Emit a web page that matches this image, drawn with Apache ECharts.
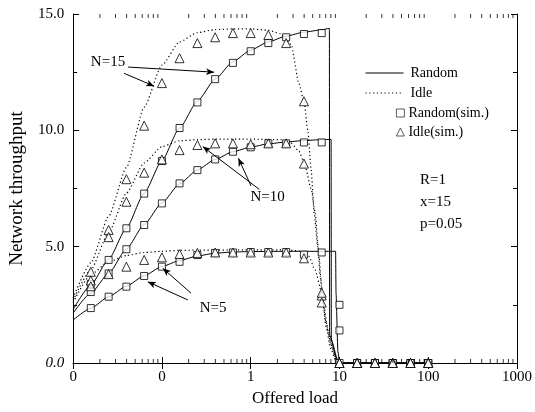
<!DOCTYPE html>
<html>
<head>
<meta charset="utf-8">
<script src="https://cdn.jsdelivr.net/npm/echarts@6/dist/echarts.min.js"></script>
<style>
html, body { margin: 0; padding: 0; background: #fff; }
#main { width: 535px; height: 412px; }
</style>
</head>
<body>
<div id="main"></div>
<script>
// offered load of the simulation points
const simLoad = [0.0158, 0.0251, 0.0398, 0.0631, 0.1, 0.158, 0.251, 0.398, 0.631, 1,
                 1.58, 2.51, 3.98, 6.31, 10, 15.8, 25.1, 39.8, 63.1, 100];

// Random(sim.)
const randomSim15 = [3.4, 4.43, 5.79, 7.28, 8.68, 10.1, 11.2, 12.2, 12.9, 13.4, 13.75, 14.0, 14.14, 14.18, 0, 0, 0, 0, 0, 0];
const randomSim10 = [3.05, 3.85, 4.89, 5.93, 6.86, 7.72, 8.29, 8.75, 9.08, 9.27, 9.44, 9.44, 9.48, 9.48, 2.5, 0, 0, 0, 0, 0];
const randomSim5  = [2.36, 2.85, 3.28, 3.74, 4.14, 4.35, 4.64, 4.73, 4.75, 4.77, 4.77, 4.77, 4.66, 4.75, 1.4, 0, 0, 0, 0, 0];

// Idle(sim.)
const idleSim15 = [3.92, 5.72, 7.9, 10.2, 12.03, 13.1, 13.75, 14.0, 14.18, 14.18, 14.1, 13.75, 11.25, 2.9, 0, 0, 0, 0, 0, 0];
const idleSim10 = [3.55, 5.41, 6.93, 8.18, 8.75, 9.15, 9.37, 9.44, 9.44, 9.4, 9.44, 9.44, 8.57, 2.6, 0, 0, 0, 0, 0, 0];
const idleSim5  = [3.3, 3.82, 4.14, 4.43, 4.54, 4.68, 4.73, 4.75, 4.75, 4.75, 4.75, 4.75, 4.5, 3.02, 0, 0, 0, 0, 0, 0];

// analytic curves [load, throughput]
const randomCurve15 = [[0.01, 2.3], [0.0158, 3.35], [0.0251, 4.45], [0.0398, 5.8], [0.0631, 7.3], [0.1, 8.7],
  [0.158, 10.1], [0.251, 11.25], [0.398, 12.2], [0.631, 12.95], [1, 13.45], [1.58, 13.8], [2.51, 14.05],
  [3.98, 14.22], [6.31, 14.32], [7.7, 14.38], [7.75, 1.2], [9.3, 0.2], [10, 0], [100, 0]];
const randomCurve10 = [[0.01, 2.15], [0.0158, 3.0], [0.0251, 3.85], [0.0398, 4.9], [0.0631, 5.95], [0.1, 6.88],
  [0.158, 7.7], [0.251, 8.3], [0.398, 8.75], [0.631, 9.08], [1, 9.28], [1.58, 9.42], [2.51, 9.5],
  [3.98, 9.56], [6.31, 9.6], [8.05, 9.61], [8.1, 1.0], [9.5, 0.15], [10, 0], [100, 0]];
const randomCurve5 = [[0.01, 1.85], [0.0158, 2.35], [0.0251, 2.85], [0.0398, 3.3], [0.0631, 3.75], [0.1, 4.15],
  [0.158, 4.4], [0.251, 4.6], [0.398, 4.72], [0.631, 4.77], [1, 4.79], [2.51, 4.8], [6.31, 4.8],
  [9.05, 4.8], [9.15, 3.0], [9.6, 0.5], [10, 0], [100, 0]];

const idleCurve15 = [[0.01, 2.8], [0.0158, 4.3], [0.0251, 6.3], [0.0398, 8.4], [0.0631, 11.0], [0.1, 12.8],
  [0.158, 13.8], [0.251, 14.2], [0.398, 14.33], [0.631, 14.36], [1, 14.36], [1.58, 14.3], [2.2, 14.15],
  [2.85, 13.7], [3.5, 12.0], [4.0, 11.2], [4.4, 10.0], [4.8, 8.3], [5.2, 6.4], [5.7, 5.0], [6.1, 3.7],
  [6.7, 2.4], [7.5, 1.3], [8.5, 0.5], [9.3, 0.1], [10, 0], [100, 0]];
const idleCurve10 = [[0.01, 2.7], [0.0158, 4.0], [0.0251, 5.6], [0.0398, 7.3], [0.0631, 8.6], [0.1, 9.3],
  [0.158, 9.55], [0.251, 9.6], [0.398, 9.62], [1, 9.62], [2.2, 9.6], [2.85, 9.45], [3.5, 9.1],
  [4.0, 8.6], [4.8, 7.5], [5.3, 6.5], [5.8, 4.9], [6.3, 3.2], [7.0, 1.8], [8.0, 0.8], [9.2, 0.15],
  [10, 0], [100, 0]];
const idleCurve5 = [[0.01, 2.6], [0.0158, 3.8], [0.0251, 4.35], [0.0398, 4.62], [0.0631, 4.75], [0.1, 4.8],
  [0.158, 4.84], [0.251, 4.85], [1, 4.86], [2.51, 4.86], [3.5, 4.82], [4.5, 4.6], [5.3, 4.0],
  [6.3, 3.05], [7.1, 1.5], [8.0, 0.6], [9.1, 0.1], [10, 0], [100, 0]];

// axis ticks
const loadDecades = [0.01, 0.1, 1, 10, 100, 1000];
const loadTickLabels = ['0', '0', '1', '10', '100', '1000'];
const loadMinorTicks = [0.02, 0.03, 0.04, 0.05, 0.06, 0.07, 0.08, 0.09,
  0.2, 0.3, 0.4, 0.5, 0.6, 0.7, 0.8, 0.9, 2, 3, 4, 5, 6, 7, 8, 9,
  20, 30, 40, 50, 60, 70, 80, 90, 200, 300, 400, 500, 600, 700, 800, 900];

// annotations, in data units
const notes = [
  { text: 'N=15', at: [0.0247, 12.94], arrows: [[[0.0416, 12.72], [0.387, 12.5]], [[0.0375, 12.45], [0.0817, 11.9]]] },
  { text: 'N=10', at: [1.55, 7.13], arrows: [[[1.253, 7.46], [0.289, 9.3]], [[1.01, 7.61], [0.727, 8.8]]] },
  { text: 'N=5', at: [0.377, 2.36], arrows: [[[0.213, 3.0], [0.1023, 4.07]], [[0.196, 2.71], [0.0694, 3.49]]] }
];
const paramLines = ['R=1', 'x=15', 'p=0.05'];

const serif = 'Liberation Serif';
const chart = echarts.init(document.getElementById('main'));

function zip(xs, ys) { return xs.map((x, i) => [x, ys[i]]); }

function curve(name, data, dotted) {
  return {
    name: name, type: 'line', data: data, symbol: 'none', smooth: 0.2, smoothMonotone: 'x',
    lineStyle: { color: '#000', width: dotted ? 1.2 : 1, type: dotted ? [1.2, 2.6] : 'solid' },
    // transparent so the legend shows only the line
    itemStyle: { color: 'rgba(0,0,0,0)', borderWidth: 0 }, z: 3
  };
}
function sim(name, data, symbol, size) {
  return {
    name: name, type: 'scatter', data: data, symbol: symbol, symbolSize: size, clip: false,
    itemStyle: { color: '#fff', borderColor: '#000', borderWidth: 1 }, z: 4
  };
}
function tickMarks(y, offset) {
  return {
    type: 'scatter', silent: true, clip: false, symbol: 'rect', symbolSize: [1, 4], symbolOffset: [0, offset],
    data: loadMinorTicks.map(x => [x, y]), itemStyle: { color: '#000' }, z: 5
  };
}

const arrowLines = [];
notes.forEach(n => n.arrows.forEach(a => arrowLines.push([
  { coord: a[0], symbol: 'none' }, { coord: a[1], symbol: 'arrow' }
])));

const firstRandom = curve('Random', randomCurve15, false);
firstRandom.markLine = {
  silent: true, animation: false, symbolSize: [5, 8],
  lineStyle: { color: '#000', width: 1, type: 'solid' },
  itemStyle: { color: '#000' },
  label: { show: false }, data: arrowLines
};

const axisText = { color: '#000', fontFamily: serif, fontSize: 15 };

chart.setOption({
  animation: false,
  backgroundColor: '#fff',
  grid: { left: 72, right: 18, top: 14, bottom: 49 },
  legend: [
    {
      data: ['Random', 'Idle'], orient: 'vertical', left: 365, top: 66, padding: 0,
      itemWidth: 38, itemHeight: 14, itemGap: 6, selectedMode: false,
      lineStyle: { width: 1 },
      textStyle: { color: '#000', fontFamily: serif, fontSize: 14, padding: [0, 0, 0, 2] }
    },
    {
      data: ['Random(sim.)', 'Idle(sim.)'], orient: 'vertical', left: 396, top: 106, padding: 0,
      itemWidth: 8, itemHeight: 8, itemGap: 5, selectedMode: false,
      itemStyle: { borderWidth: 0.8 },
      textStyle: { color: '#000', fontFamily: serif, fontSize: 14, padding: [0, 0, 0, -1] }
    }
  ],
  xAxis: [
    {
      type: 'log', logBase: 10, min: 0.01, max: 1000, position: 'bottom',
      name: 'Offered load', nameLocation: 'middle', nameGap: 21,
      nameTextStyle: { color: '#000', fontFamily: serif, fontSize: 17 },
      axisLine: { lineStyle: { color: '#000', width: 1 } },
      axisTick: { inside: true, length: 6, lineStyle: { color: '#000' } },
      axisLabel: Object.assign({ margin: 7, formatter: v => {
        const i = loadDecades.findIndex(d => Math.abs(Math.log10(d / v)) < 1e-6);
        return i < 0 ? '' : loadTickLabels[i];
      } }, axisText),
      splitLine: { show: false }
    },
    {
      type: 'log', logBase: 10, min: 0.01, max: 1000, position: 'top',
      axisLine: { lineStyle: { color: '#000', width: 1 } },
      axisTick: { inside: true, length: 6, lineStyle: { color: '#000' } },
      axisLabel: { show: false }, splitLine: { show: false }
    }
  ],
  yAxis: [
    {
      type: 'value', min: 0, max: 15, interval: 5, position: 'left',
      name: 'Network throughput', nameLocation: 'middle', nameGap: 42, nameRotate: 90,
      nameTextStyle: { color: '#000', fontFamily: serif, fontSize: 19 },
      axisLine: { show: true, lineStyle: { color: '#000', width: 1 } },
      axisTick: { inside: true, length: 6, lineStyle: { color: '#000' } },
      minorTick: { show: true, splitNumber: 2, length: 4, lineStyle: { color: '#000' } },
      axisLabel: Object.assign({
        margin: 9,
        formatter: v => v === 0 ? '{it|0.0}' : v.toFixed(1),
        rich: { it: { fontStyle: 'italic', fontFamily: serif, fontSize: 15, color: '#000' } }
      }, axisText),
      splitLine: { show: false }
    },
    {
      type: 'value', min: 0, max: 15, interval: 5, position: 'right',
      axisLine: { show: true, lineStyle: { color: '#000', width: 1 } },
      axisTick: { inside: true, length: 6, lineStyle: { color: '#000' } },
      minorTick: { show: true, splitNumber: 2, length: 4, lineStyle: { color: '#000' } },
      axisLabel: { show: false }, splitLine: { show: false }
    }
  ],
  series: [
    firstRandom,
    curve('Random', randomCurve10, false),
    curve('Random', randomCurve5, false),
    curve('Idle', idleCurve15, true),
    curve('Idle', idleCurve10, true),
    curve('Idle', idleCurve5, true),
    sim('Random(sim.)', zip(simLoad, randomSim15), 'rect', 7),
    sim('Random(sim.)', zip(simLoad, randomSim10), 'rect', 7),
    sim('Random(sim.)', zip(simLoad, randomSim5), 'rect', 7),
    sim('Idle(sim.)', zip(simLoad, idleSim15), 'triangle', 9),
    sim('Idle(sim.)', zip(simLoad, idleSim10), 'triangle', 9),
    sim('Idle(sim.)', zip(simLoad, idleSim5), 'triangle', 9),
    tickMarks(0, -2),
    tickMarks(15, 2)
  ]
});

// N labels and parameter text
const graphics = notes.map(n => {
  const p = chart.convertToPixel({ gridIndex: 0 }, n.at);
  return {
    type: 'text', x: p[0], y: p[1],
    style: { text: n.text, fill: '#000', font: '15px "' + serif + '"', textAlign: 'center', textVerticalAlign: 'middle' }
  };
});
paramLines.forEach((t, i) => graphics.push({
  type: 'text', left: 420, top: 173 + i * 22,
  style: { text: t, fill: '#000', font: '15px "' + serif + '"' }
}));
chart.setOption({ graphic: graphics });
</script>
</body>
</html>
